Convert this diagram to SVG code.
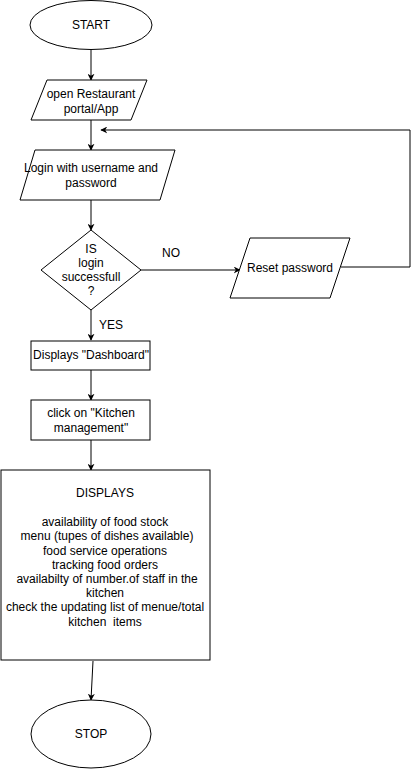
<svg xmlns="http://www.w3.org/2000/svg" width="420" height="772" viewBox="0 0 420 772">
<defs>
<marker id="ah" viewBox="0 0 10 10" refX="9" refY="5" markerWidth="7" markerHeight="7" orient="auto" markerUnits="userSpaceOnUse">
<path d="M0,0 L10,5 L0,10 L3,5 Z" fill="#000"/>
</marker>
<style>
.s{fill:#fff;stroke:#000;stroke-width:1}
.t{font-family:"Liberation Sans",Arial,sans-serif;font-size:12px;fill:#000;text-anchor:middle}
.c{fill:none;stroke:#000;stroke-width:1;marker-end:url(#ah)}
</style>
</defs>
<rect width="420" height="772" fill="#fff"/>
<g id="connectors">
<path class="c" d="M91,50 V80"/>
<path class="c" d="M91,120 V150"/>
<path class="c" d="M91,200 V230"/>
<path class="c" d="M141,270 H240"/>
<path class="c" d="M341,267 H410 V130 H101"/>
<path class="c" d="M91,310 V340"/>
<path class="c" d="M91,370 V400"/>
<path class="c" d="M91,440 V470"/>
<path class="c" d="M93,661 L91,700"/>
<text class="t" x="171" y="257">NO</text>
<text class="t" x="111" y="329">YES</text>
</g>
<g id="start">
<ellipse class="s" cx="91" cy="25" rx="61" ry="24.5"/>
<text class="t" x="91" y="29">START</text>
</g>
<g id="open">
<polygon class="s" points="47,80 147,80 131,120 31,120"/>
<text class="t" x="91" y="98">open Restaurant</text>
<text class="t" x="91" y="113">portal/App</text>
</g>
<g id="login">
<polygon class="s" points="35,150 175,150 160,200 20,200"/>
<text class="t" x="91" y="172">Login with username and</text>
<text class="t" x="91" y="187">password</text>
</g>
<g id="decision">
<polygon class="s" points="91,230 141,270 91,310 41,270"/>
<text class="t" x="91" y="253">IS</text>
<text class="t" x="91" y="267">login</text>
<text class="t" x="91" y="281">successfull</text>
<text class="t" x="91" y="295">?</text>
</g>
<g id="reset">
<polygon class="s" points="250,238 350,238 330,298 230,298"/>
<text class="t" x="290" y="272">Reset password</text>
</g>
<g id="dashboard">
<rect class="s" x="31" y="341" width="119" height="29"/>
<text class="t" x="91" y="359">Displays "Dashboard"</text>
</g>
<g id="kitchen">
<rect class="s" x="31" y="400" width="119" height="40"/>
<text class="t" x="91" y="417">click on "Kitchen</text>
<text class="t" x="91" y="432">management"</text>
</g>
<g id="displays">
<rect class="s" x="1" y="470" width="209" height="190"/>
<text class="t" x="105" y="497">DISPLAYS</text>
<text class="t" x="105" y="526">availability of food stock</text>
<text class="t" x="107" y="540">menu (tupes of dishes available)</text>
<text class="t" x="105" y="555">food service operations</text>
<text class="t" x="105" y="569">tracking food orders</text>
<text class="t" x="107" y="583">availabilty of number.of staff in the</text>
<text class="t" x="105" y="597">kitchen</text>
<text class="t" x="105" y="611">check the updating list of menue/total</text>
<text class="t" x="105" y="626">kitchen&#160; items</text>
</g>
<g id="stop">
<ellipse class="s" cx="91" cy="734" rx="60" ry="34"/>
<text class="t" x="91" y="738">STOP</text>
</g>
</svg>
